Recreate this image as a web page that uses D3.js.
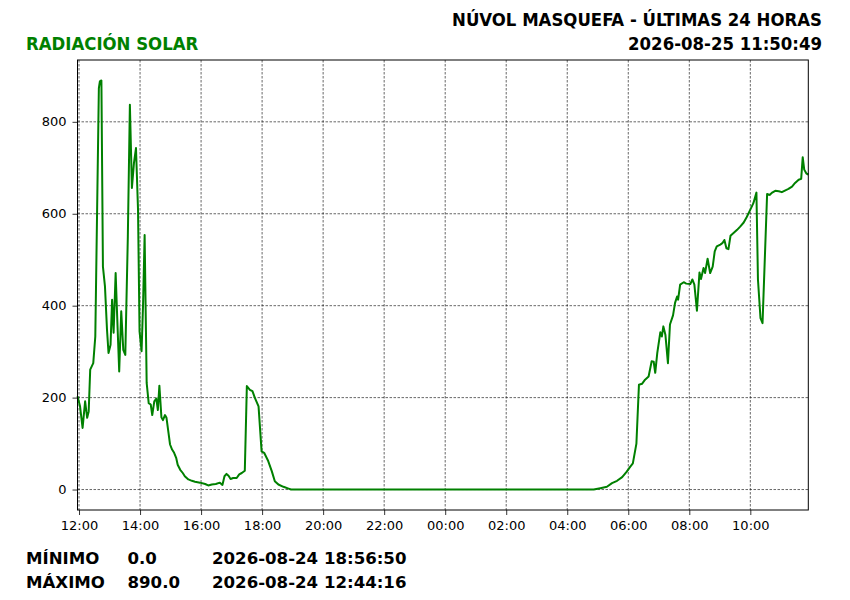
<!DOCTYPE html>
<html><head><meta charset="utf-8">
<script src="https://cdn.jsdelivr.net/npm/d3@7"></script>
<style>body{margin:0;background:#fff}svg{display:block}</style>
</head><body>
<svg id="c" width="850" height="600"></svg>
<script>
const times = ["08-24 11:57","08-24 12:02","08-24 12:07","08-24 12:12","08-24 12:16","08-24 12:19","08-24 12:22","08-24 12:28","08-24 12:32","08-24 12:39","08-24 12:41","08-24 12:44","08-24 12:47","08-24 12:51","08-24 12:55","08-24 12:58","08-24 13:02","08-24 13:05","08-24 13:08","08-24 13:12","08-24 13:15","08-24 13:19","08-24 13:23","08-24 13:27","08-24 13:31","08-24 13:36","08-24 13:40","08-24 13:44","08-24 13:48","08-24 13:52","08-24 13:56","08-24 13:59","08-24 14:03","08-24 14:06","08-24 14:09","08-24 14:13","08-24 14:17","08-24 14:21","08-24 14:24","08-24 14:28","08-24 14:32","08-24 14:35","08-24 14:38","08-24 14:42","08-24 14:45","08-24 14:49","08-24 14:52","08-24 14:56","08-24 14:59","08-24 15:03","08-24 15:07","08-24 15:11","08-24 15:14","08-24 15:19","08-24 15:24","08-24 15:28","08-24 15:35","08-24 15:42","08-24 15:48","08-24 15:58","08-24 16:08","08-24 16:14","08-24 16:21","08-24 16:29","08-24 16:37","08-24 16:42","08-24 16:46","08-24 16:50","08-24 16:54","08-24 16:58","08-24 17:03","08-24 17:10","08-24 17:15","08-24 17:20","08-24 17:26","08-24 17:30","08-24 17:36","08-24 17:41","08-24 17:46","08-24 17:53","08-24 17:59","08-24 18:04","08-24 18:12","08-24 18:19","08-24 18:25","08-24 18:32","08-24 18:42","08-24 18:52","08-24 18:57","08-25 04:52","08-25 05:05","08-25 05:18","08-25 05:28","08-25 05:38","08-25 05:48","08-25 05:57","08-25 06:04","08-25 06:09","08-25 06:16","08-25 06:21","08-25 06:27","08-25 06:33","08-25 06:40","08-25 06:46","08-25 06:50","08-25 06:53","08-25 06:57","08-25 07:03","08-25 07:06","08-25 07:09","08-25 07:13","08-25 07:18","08-25 07:22","08-25 07:28","08-25 07:32","08-25 07:36","08-25 07:38","08-25 07:42","08-25 07:49","08-25 07:54","08-25 08:02","08-25 08:06","08-25 08:10","08-25 08:15","08-25 08:20","08-25 08:23","08-25 08:28","08-25 08:31","08-25 08:36","08-25 08:41","08-25 08:46","08-25 08:50","08-25 08:54","08-25 09:01","08-25 09:05","08-25 09:09","08-25 09:13","08-25 09:17","08-25 09:21","08-25 09:27","08-25 09:34","08-25 09:40","08-25 09:47","08-25 09:53","08-25 10:00","08-25 10:06","08-25 10:12","08-25 10:15","08-25 10:20","08-25 10:24","08-25 10:33","08-25 10:38","08-25 10:43","08-25 10:49","08-25 10:56","08-25 11:02","08-25 11:09","08-25 11:15","08-25 11:22","08-25 11:28","08-25 11:35","08-25 11:40","08-25 11:43","08-25 11:46","08-25 11:50","08-25 11:54"];
const radiation = [203,181,134,192,156,170,261,275,333,873,888,890,485,442,348,297,315,413,341,471,377,257,388,304,293,551,837,656,710,743,609,344,301,406,554,232,188,185,162,192,198,173,226,157,151,162,156,123,98,87,80,69,54,43,36,29,22,19,17,15,12,9,11,12,15,10,29,34,30,23,25,25,33,36,41,225,217,214,199,181,83,80,62,40,18,11,6,2,0,0,3,6,14,19,27,39,50,57,100,228,230,239,246,279,278,254,297,342,333,355,337,275,359,379,406,420,413,446,451,448,447,457,446,389,472,458,482,471,502,471,485,518,529,533,536,543,525,523,552,558,565,572,581,593,609,623,646,457,373,362,643,641,646,650,649,647,651,654,659,667,674,676,723,696,688,685];
const yTicks = [0,200,400,600,800];
const titleRight = "NÚVOL MASQUEFA - ÚLTIMAS 24 HORAS";
const updated = "2026-08-25 11:50:49";
const titleLeft = "RADIACIÓN SOLAR";
const statLabels = ["MÍNIMO","MÁXIMO"];
const statValues = ["0.0","890.0"];
const statTimes = ["2026-08-24 18:56:50","2026-08-24 12:44:16"];

const parse = d3.timeParse("%Y-%m-%d %H:%M");
const data = times.map((t,i)=>({t:parse("2026-"+t), v:radiation[i]}));

const svg = d3.select("#c");
const L=77.5, R=808.3, T=60, B=510;
const x = d3.scaleTime().domain(d3.extent(data,d=>d.t)).range([L,R]);
const vmax = d3.max(radiation), vmin = d3.min(radiation), pad=(vmax-vmin)*0.05;
const y = d3.scaleLinear().domain([vmin-pad, vmax+pad]).range([B,T]);

const xTicks = d3.timeHour.every(2).range(d3.timeHour.ceil(x.domain()[0]), x.domain()[1]);

// grid
const g = svg.append("g");
g.selectAll(".gx").data(xTicks).join("line")
  .attr("x1",d=>x(d)).attr("x2",d=>x(d)).attr("y1",T).attr("y2",B)
  .attr("stroke","#000").attr("stroke-width",0.6).attr("stroke-dasharray","2.5,1.5");
g.selectAll(".gy").data(yTicks).join("line")
  .attr("x1",L).attr("x2",R).attr("y1",d=>y(d)).attr("y2",d=>y(d))
  .attr("stroke","#000").attr("stroke-width",0.6).attr("stroke-dasharray","2.5,1.5");

// line
svg.append("path").datum(data)
  .attr("d", d3.line().x(d=>x(d.t)).y(d=>y(d.v)))
  .attr("fill","none").attr("stroke","#008000").attr("stroke-width",2).attr("stroke-linejoin","round");

// axes
const xa = svg.append("g").attr("transform",`translate(0,${B})`)
  .call(d3.axisBottom(x).tickValues(xTicks).tickFormat(d3.timeFormat("%H:%M")).tickSizeOuter(0).tickSize(5).tickPadding(6));
const ya = svg.append("g").attr("transform",`translate(${L},0)`)
  .call(d3.axisLeft(y).tickValues(yTicks).tickFormat(d3.format("d")).tickSizeOuter(0).tickSize(5).tickPadding(6));
[xa,ya].forEach(a=>{
  a.select(".domain").remove();
  a.selectAll("text").attr("font-family","DejaVu Sans").attr("font-size",13).attr("fill","#000");
  a.selectAll("line").attr("stroke","#000").attr("stroke-width",0.8);
});
svg.append("rect").attr("x",L).attr("y",T).attr("width",R-L).attr("height",B-T)
  .attr("fill","none").attr("stroke","#000").attr("stroke-width",1);

// titles
const hf = "'DejaVu Sans Condensed','DejaVu Sans'";
svg.append("text").attr("x",822).attr("y",25.5).attr("text-anchor","end")
  .attr("font-family",hf).attr("font-weight","bold").attr("font-stretch","condensed").attr("font-size",18.4).text(titleRight);
svg.append("text").attr("x",822).attr("y",49.5).attr("text-anchor","end")
  .attr("font-family",hf).attr("font-weight","bold").attr("font-stretch","condensed").attr("font-size",18.4).text(updated);
svg.append("text").attr("x",26).attr("y",49.5)
  .attr("font-family",hf).attr("font-weight","bold").attr("font-stretch","condensed").attr("font-size",18.4).attr("fill","#008000").text(titleLeft);

// stats
const sy=[564,588];
statLabels.forEach((s,i)=>{
  const t = svg.append("g").attr("font-family","DejaVu Sans").attr("font-weight","bold").attr("font-size",16.6);
  t.append("text").attr("x",26).attr("y",sy[i]).text(s);
  t.append("text").attr("x",127.5).attr("y",sy[i]).text(statValues[i]);
  t.append("text").attr("x",212).attr("y",sy[i]).text(statTimes[i]);
});
</script>
</body></html>
